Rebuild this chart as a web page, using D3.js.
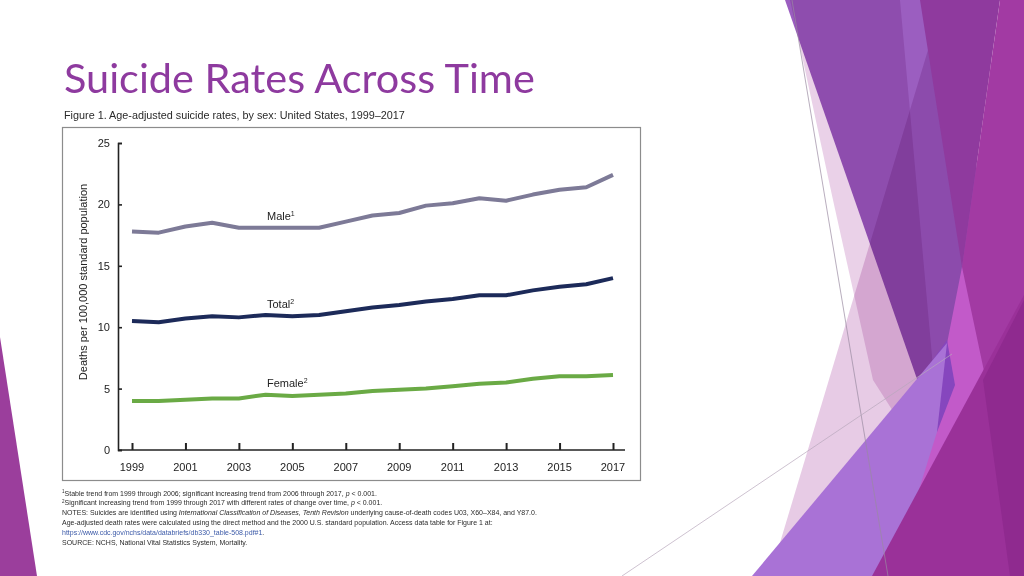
<!DOCTYPE html>
<html><head><meta charset="utf-8">
<script src="https://cdn.jsdelivr.net/npm/d3@7"></script>
<style>
html,body{margin:0;padding:0;background:#fff;}
svg{display:block;}
</style></head>
<body>
<svg id="c" width="1024" height="576"></svg>
<script>
// ---------- data ----------
const years = [1999,2000,2001,2002,2003,2004,2005,2006,2007,2008,2009,2010,2011,2012,2013,2014,2015,2016,2017];
const male   = [17.8,17.7,18.2,18.5,18.1,18.1,18.1,18.1,18.6,19.1,19.3,19.9,20.1,20.5,20.3,20.8,21.2,21.4,22.4];
const total  = [10.5,10.4,10.7,10.9,10.8,11.0,10.9,11.0,11.3,11.6,11.8,12.1,12.3,12.6,12.6,13.0,13.3,13.5,14.0];
const female = [4.0,4.0,4.1,4.2,4.2,4.5,4.4,4.5,4.6,4.8,4.9,5.0,5.2,5.4,5.5,5.8,6.0,6.0,6.1];
const xTickYears = [1999,2001,2003,2005,2007,2009,2011,2013,2015,2017];
const yTicks = [0,5,10,15,20,25];
const seriesNames = ["Male","Total","Female"];
const seriesSup = ["1","2","2"];
const seriesColors = ["#7d7a97","#1c2a59","#6aaa45"];

const svg = d3.select("#c");

// ---------- slide decoration ----------
const deco = svg.append("g");
function poly(pts, fill, extra){ const p = deco.append("polygon").attr("points", pts.map(d=>d.join(",")).join(" ")).attr("fill", fill); if(extra) extra(p); return p; }
// left-bottom triangle
poly([[0,337],[0,576],[37,576]], "#9b3e9c");
// purple band
poly([[785,0],[960,0],[990,300],[945,450],[940,445]], "#9b5ec0");
// pale shapes (multiply)
poly([[790,0],[833,200],[873,380],[905,430],[940,445],[900,0]], "#ead1e8", p=>p.style("mix-blend-mode","multiply"));
poly([[943,0],[990,0],[1000,576],[770,576]], "#e7cbe5", p=>p.style("mix-blend-mode","multiply"));
// dark magenta column
poly([[920,0],[1000,0],[962,267]], "#8f3a9e");
// bright magenta right strip
poly([[1000,0],[1024,0],[1024,300],[985,400],[962,267]], "#a23aa3");
// orchid sliver
poly([[962,267],[988,390],[905,545],[930,430]], "#c25ac9");
// deep violet
poly([[947,340],[915,385],[937,432],[955,385]], "#8646be");
// lavender
poly([[752,576],[947,343],[937,432],[892,576]], "#a972d6");
// bottom dark magenta
poly([[872,576],[1024,295],[1024,576]], "#9a3199");
poly([[983,380],[1024,300],[1024,576],[1010,576]], "#8f2a8f");
// thin lines
deco.append("line").attr("x1",792).attr("y1",0).attr("x2",888).attr("y2",576).attr("stroke","#9a8aa0").attr("stroke-width",0.7);
deco.append("line").attr("x1",622).attr("y1",576).attr("x2",952).attr("y2",354).attr("stroke","#b8a8bc").attr("stroke-width",0.7);

// ---------- helpers ----------
function fitWidth(sel, target){
  const w = sel.node().getComputedTextLength();
  const fs = parseFloat(sel.attr("font-size"));
  sel.attr("font-size", (fs*target/w).toFixed(2));
}

// ---------- title & caption ----------
const title = svg.append("text").attr("x",64).attr("y",93)
  .attr("font-family","Lato, 'Noto Sans', sans-serif").attr("font-size",41)
  .attr("fill","#8e3a9f").text("Suicide Rates Across Time");
fitWidth(title, 471);

const cap = svg.append("text").attr("x",64).attr("y",119)
  .attr("font-family","'Liberation Sans', Arial, sans-serif").attr("font-size",11)
  .attr("fill","#2a2a2a").text("Figure 1. Age-adjusted suicide rates, by sex: United States, 1999–2017");
fitWidth(cap, 341);

// ---------- chart box ----------
svg.append("rect").attr("x",62.5).attr("y",127.5).attr("width",578).attr("height",353)
  .attr("fill","#fff").attr("stroke","#8c8c8c").attr("stroke-width",1.2);

const x = d3.scaleLinear().domain([1999,2017]).range([132,613]);
const y = d3.scaleLinear().domain([0,25]).range([450,143]);
const font = "'Liberation Sans', Arial, sans-serif";

// y axis
const gy = svg.append("g").attr("transform","translate(118,0)")
  .call(d3.axisRight(y).tickValues(yTicks).tickSize(4).tickFormat(""));
gy.select(".domain").attr("stroke","#222").attr("stroke-width",1.6);
gy.selectAll(".tick line").attr("stroke","#222").attr("stroke-width",1.6);
svg.append("g").selectAll("text").data(yTicks).join("text")
  .attr("x",110).attr("y",d=>y(d)+4).attr("text-anchor","end")
  .attr("font-family",font).attr("font-size",11).attr("fill","#222").text(d=>d);

// x axis
const gx = svg.append("g").attr("transform","translate(0,450)")
  .call(d3.axisTop(x).tickValues(xTickYears).tickSize(7).tickFormat("").tickSizeOuter(0));
gx.select(".domain").attr("d","M118,0H625").attr("stroke","#222").attr("stroke-width",1.6);
gx.selectAll(".tick line").attr("stroke","#222").attr("stroke-width",2);
svg.append("g").selectAll("text").data(xTickYears).join("text")
  .attr("x",d=>x(d)).attr("y",471).attr("text-anchor","middle")
  .attr("font-family",font).attr("font-size",11).attr("fill","#222").text(d=>d);

// y title
svg.append("text").attr("transform","translate(87,282) rotate(-90)").attr("text-anchor","middle")
  .attr("font-family",font).attr("font-size",11).attr("fill","#222")
  .text("Deaths per 100,000 standard population");

// lines
const series = [male,total,female];
const line = d3.line().x((d,i)=>x(years[i])).y(d=>y(d));
svg.append("g").selectAll("path").data(series).join("path")
  .attr("d",line).attr("fill","none")
  .attr("stroke",(d,i)=>seriesColors[i]).attr("stroke-width",4)
  .attr("stroke-linejoin","round");

// series labels
const labY = [220,308,387];
seriesNames.forEach((n,i)=>{
  const t = svg.append("text").attr("x",267).attr("y",labY[i])
    .attr("font-family",font).attr("font-size",11).attr("fill","#222").text(n);
  t.append("tspan").attr("dy",-4).attr("font-size",7).text(seriesSup[i]);
});

// ---------- notes ----------
const notes = svg.append("g").attr("font-family",font).attr("fill","#2a2a2a");
const nfs = 7.6;
const noteLines = [
  [["sup","1"],["n","Stable trend from 1999 through 2006; significant increasing trend from 2006 through 2017, "],["i","p"],["n"," < 0.001."]],
  [["sup","2"],["n","Significant increasing trend from 1999 through 2017 with different rates of change over time, "],["i","p"],["n"," < 0.001."]],
  [["n","NOTES: Suicides are identified using "],["i","International Classification of Diseases, Tenth Revision"],["n"," underlying cause-of-death codes U03, X60–X84, and Y87.0."]],
  [["n","Age-adjusted death rates were calculated using the direct method and the 2000 U.S. standard population. Access data table for Figure 1 at:"]],
  [["link","https://www.cdc.gov/nchs/data/databriefs/db330_table-508.pdf#1"],["n","."]],
  [["n","SOURCE: NCHS, National Vital Statistics System, Mortality."]]
];
const nl = notes.selectAll("text").data(noteLines).join("text")
  .attr("x",62).attr("y",(d,i)=>495.5+i*9.8).attr("font-size",nfs);
nl.each(function(parts){
  const t = d3.select(this);
  parts.forEach(([k,s])=>{
    const sp = t.append("tspan").text(s);
    if(k==="i") sp.attr("font-style","italic");
    if(k==="link") sp.attr("fill","#3c5aa8");
    if(k==="sup") sp.attr("font-size",nfs*0.65).attr("dy",-2.5);
  });
  // reset baseline after superscript
  const sups = t.selectAll("tspan").filter((d,i,n)=>i===1 && parts[0][0]==="sup");
  sups.attr("dy",2.5);
});
// fit notes font by the long NOTES line
const n3 = d3.select(nl.nodes()[2]);
const w3 = n3.node().getComputedTextLength();
const scaleN = 475 / w3;
nl.attr("font-size",(nfs*scaleN).toFixed(2));
nl.selectAll("tspan").filter(function(){return this.getAttribute("font-size");}).attr("font-size",(nfs*0.65*scaleN).toFixed(2));
</script>
</body></html>
